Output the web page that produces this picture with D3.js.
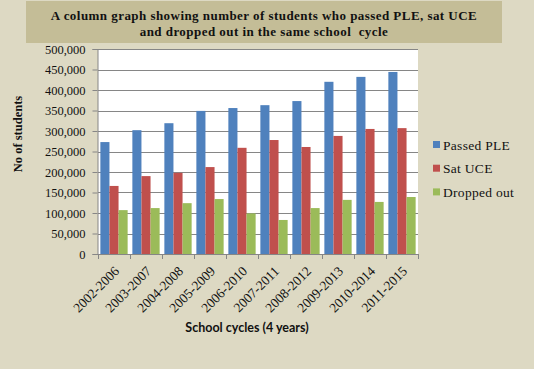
<!DOCTYPE html>
<html><head><meta charset="utf-8">
<script src="https://cdn.jsdelivr.net/npm/d3@7"></script>
<style>html,body{margin:0;padding:0;background:#DDD9C3;}svg{display:block;}</style>
</head><body>
<script>
const categories = ["2002-2006","2003-2007","2004-2008","2005-2009","2006-2010","2007-2011","2008-2012","2009-2013","2010-2014","2011-2015"];
const seriesNames = ["Passed PLE","Sat UCE","Dropped out"];
const passedPLE = [273000,302000,319000,349000,356000,363000,373000,420000,432000,444000];
const satUCE = [166000,190000,198000,212000,259000,278000,261000,288000,305000,307000];
const droppedOut = [107000,112000,124000,134000,99000,83000,112000,132000,127000,139000];
const yTicks = [0,50000,100000,150000,200000,250000,300000,350000,400000,450000,500000];
const colors = ["#4F81BD","#C0504D","#9BBB59"];
const seriesValues = [passedPLE, satUCE, droppedOut];

const W = 534, H = 369;
const svg = d3.select("body").append("svg").attr("width", W).attr("height", H);
svg.append("rect").attr("width", W).attr("height", H).attr("fill", "#DDD9C3");

// title box
svg.append("rect").attr("x", 26).attr("y", 1).attr("width", 476).attr("height", 42).attr("fill", "#C4BD97");
const titleLines = ["A column graph showing number of students who passed PLE, sat UCE", "and dropped out in the same school  cycle"];
svg.append("text").attr("x", 264).attr("y", 19.5)
  .attr("text-anchor", "middle").attr("font-family", "Liberation Serif, serif")
  .attr("font-weight", "bold").attr("font-size", 13).attr("letter-spacing", 0.45).attr("fill", "#111")
  .attr("xml:space", "preserve")
  .selectAll("tspan").data(titleLines).join("tspan")
  .attr("x", 264).attr("dy", (d, i) => i === 0 ? 0 : 16.5).text(d => d);

const L = 98, R = 418, T = 49, B = 254;
svg.append("rect").attr("x", L).attr("y", T).attr("width", R - L).attr("height", B - T).attr("fill", "#fff");

const x = d3.scaleBand().domain(categories).range([L, R]).padding(0);
const xi = d3.scaleBand().domain(seriesNames).range([0, x.bandwidth()]).paddingInner(0).paddingOuter(0.26);
const y = d3.scaleLinear().domain([0, 500000]).range([B, T]);

// gridlines
svg.append("g").selectAll("line").data(yTicks.filter(d => d > 0)).join("line")
  .attr("x1", L).attr("x2", R).attr("y1", d => Math.round(y(d)) + 0.5).attr("y2", d => Math.round(y(d)) + 0.5)
  .attr("stroke", "#868686").attr("stroke-width", 1);

// bars
const g = svg.append("g");
categories.forEach((c, ci) => {
  seriesNames.forEach((s, si) => {
    g.append("rect")
      .attr("x", x(c) + xi(s)).attr("width", xi.bandwidth())
      .attr("y", y(seriesValues[si][ci])).attr("height", B - y(seriesValues[si][ci]))
      .attr("fill", colors[si]);
  });
});

// y axis
const yAxis = d3.axisLeft(y).tickValues(yTicks).tickSize(5).tickPadding(7).tickFormat(d3.format(","));
const ya = svg.append("g").attr("transform", `translate(${L - 0.5},0)`).call(yAxis);
ya.select(".domain").attr("stroke", "#868686");
ya.selectAll(".tick line").attr("stroke", "#868686");
ya.selectAll("text").attr("font-family", "Liberation Serif, serif").attr("font-size", 12.5).attr("fill", "#111");

// x axis
const xTickPos = categories.map(c => x(c)).concat([R]);
const xa = svg.append("g");
xa.append("line").attr("x1", L).attr("x2", R).attr("y1", B + 0.5).attr("y2", B + 0.5).attr("stroke", "#868686");
xa.selectAll("line.t").data(xTickPos).join("line").attr("class", "t")
  .attr("x1", d => Math.round(d) + 0.5).attr("x2", d => Math.round(d) + 0.5)
  .attr("y1", B).attr("y2", B + 5).attr("stroke", "#868686");
xa.selectAll("text").data(categories).join("text")
  .attr("transform", d => `translate(${x(d) + x.bandwidth() / 2 + 6},${B + 18}) rotate(-45)`)
  .attr("text-anchor", "end").attr("font-family", "Liberation Serif, serif")
  .attr("font-size", 13.5).attr("fill", "#111").text(d => d);

// axis titles
svg.append("text").attr("x", 247).attr("y", 332).attr("text-anchor", "middle")
  .attr("font-family", "Lato, sans-serif").attr("font-weight", "bold").attr("font-size", 12.5).attr("fill", "#111")
  .text("School cycles (4 years)");
svg.append("text").attr("transform", "translate(22,134) rotate(-90)").attr("text-anchor", "middle")
  .attr("font-family", "Liberation Serif, serif").attr("font-weight", "bold").attr("font-size", 12.5).attr("fill", "#111")
  .text("No of students");

// legend
const leg = svg.append("g").attr("transform", "translate(433,145)");
seriesNames.forEach((s, i) => {
  const r = leg.append("g").attr("transform", `translate(0,${i * 23.7})`);
  r.append("rect").attr("x", 0).attr("y", -4).attr("width", 7).attr("height", 7).attr("fill", colors[i]);
  r.append("text").attr("x", 10).attr("y", 4.5).attr("font-family", "Liberation Serif, serif")
    .attr("font-size", 13.5).attr("letter-spacing", 0.3).attr("fill", "#111").text(s);
});
</script>
</body></html>
